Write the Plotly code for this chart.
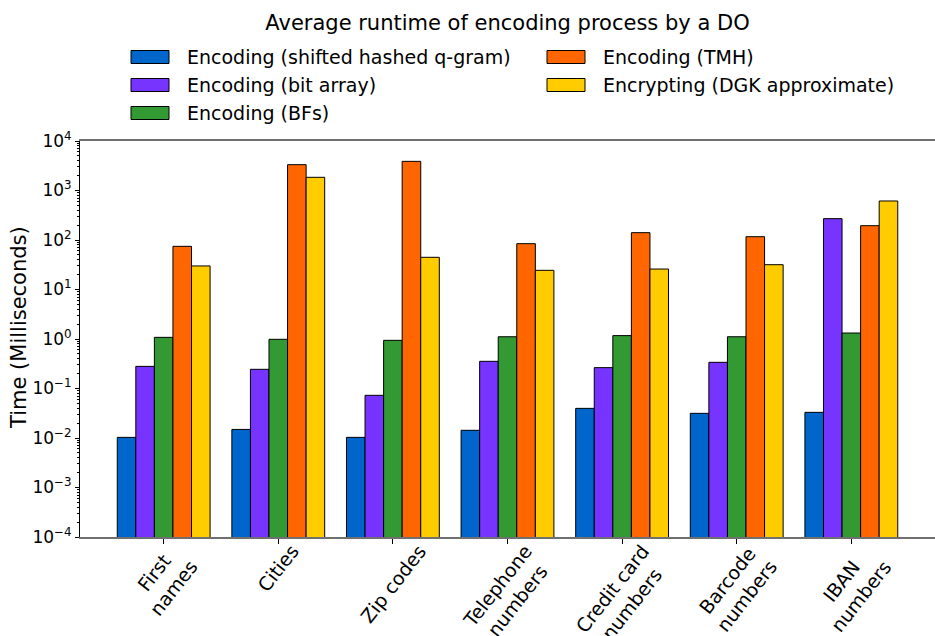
import plotly.graph_objects as go

# Data categories (x axis) and average runtimes in milliseconds
categories = ["First<br>names", "Cities", "Zip codes", "Telephone<br>numbers",
              "Credit card<br>numbers", "Barcode<br>numbers", "IBAN<br>numbers"]

shifted_qgram = [0.0103, 0.0149, 0.0103, 0.0143, 0.0397, 0.0315, 0.033]
bit_array = [0.28, 0.244, 0.0728, 0.354, 0.264, 0.338, 270]
bloom_filters = [1.08, 0.986, 0.94, 1.11, 1.17, 1.11, 1.32]
tmh = [74.5, 3325, 3880, 84.3, 140.6, 116.6, 194.5]
dgk_approx = [29.9, 1846, 44.7, 24.4, 25.9, 31.7, 614]

series_names = ["Encoding (shifted hashed q-gram)", "Encoding (bit array)",
                "Encoding (BFs)", "Encoding (TMH)", "Encrypting (DGK approximate)"]
series_values = [shifted_qgram, bit_array, bloom_filters, tmh, dgk_approx]
series_colors = ["#0066CC", "#7733FF", "#339933", "#FF6600", "#FFCC00"]

y_tick_exponents = [-4, -3, -2, -1, 0, 1, 2, 3, 4]
y_tick_labels = ["10<sup>\u22124</sup>", "10<sup>\u22123</sup>", "10<sup>\u22122</sup>",
                 "10<sup>\u22121</sup>", "10<sup>0</sup>", "10<sup>1</sup>",
                 "10<sup>2</sup>", "10<sup>3</sup>", "10<sup>4</sup>"]

FONT = "DejaVu Sans"
W, H = 935, 636
M_L, M_R, M_T, M_B = 80, 0, 141, 99
PW, PH = W - M_L - M_R, H - M_T - M_B


def px_to_paper(px, py):
    """Convert a page pixel position to plot-area paper coordinates."""
    return (px - M_L) / PW, (H - M_B - py) / PH


fig = go.Figure()
x_idx = list(range(len(categories)))
for name, vals, color in zip(series_names, series_values, series_colors):
    fig.add_trace(go.Bar(
        x=x_idx, y=vals, name=name, showlegend=False,
        marker=dict(color=color, line=dict(color="black", width=1)),
    ))

# Legend in two columns: three entries on the left, two on the right
shapes, annotations = [], []
legend_cols = [(131, 185), (547, 601)]
legend_rows = [57, 85, 113]
for i, (name, color) in enumerate(zip(series_names, series_colors)):
    col, row = (0, i) if i < 3 else (1, i - 3)
    sx, tx = legend_cols[col]
    cy = legend_rows[row]
    x0, y0 = px_to_paper(sx, cy + 6.5)
    x1, y1 = px_to_paper(sx + 38, cy - 6.5)
    shapes.append(dict(type="rect", xref="paper", yref="paper", x0=x0, y0=y0, x1=x1, y1=y1,
                       fillcolor=color, line=dict(color="black", width=1)))
    ax_, ay_ = px_to_paper(tx, cy)
    annotations.append(dict(text=name, xref="paper", yref="paper", x=ax_, y=ay_,
                            xanchor="left", yanchor="middle", showarrow=False,
                            font=dict(size=19, family=FONT, color="black")))

# Rotated category labels centred under each tick
for i, label in enumerate(categories):
    annotations.append(dict(text=label, xref="x", yref="paper", x=i, y=0, yshift=-1,
                            xanchor="center", yanchor="top", textangle=-52,
                            showarrow=False, align="center",
                            font=dict(size=19, family=FONT, color="black")))

# Y axis title
tx_, ty_ = px_to_paper(19, 328)
annotations.append(dict(text="Time (Milliseconds)", xref="paper", yref="paper",
                        x=tx_, y=ty_, xanchor="center", yanchor="middle",
                        textangle=-90, showarrow=False,
                        font=dict(size=21, family=FONT, color="black")))

fig.update_layout(
    width=W, height=H,
    margin=dict(l=M_L, r=M_R, t=M_T, b=M_B, autoexpand=False),
    paper_bgcolor="white", plot_bgcolor="white",
    barmode="group", bargap=0.19, bargroupgap=0,
    font=dict(family=FONT, color="black"),
    title=dict(text="Average runtime of encoding process by a DO",
               font=dict(size=21, family=FONT, color="black"),
               x=0.5, xref="paper", y=1 - 23 / H, yref="container",
               xanchor="center", yanchor="middle"),
    showlegend=False,
    shapes=shapes,
    annotations=annotations,
)

fig.update_xaxes(
    range=[-0.73, 6.73],
    tickmode="array", tickvals=x_idx, showticklabels=False,
    ticks="outside", ticklen=5, tickcolor="black",
    showline=True, linecolor="#707070", linewidth=1.5, mirror=True,
    showgrid=False, zeroline=False,
)

fig.update_yaxes(
    type="log", range=[-4, 4],
    tickmode="array", tickvals=[10 ** e for e in y_tick_exponents], ticktext=y_tick_labels,
    tickfont=dict(size=17, family=FONT),
    ticks="outside", ticklen=4, tickcolor="black",
    minor=dict(ticks="outside", ticklen=2, tickcolor="black", dtick="D1"),
    showline=True, linecolor="black", linewidth=1,
    showgrid=False, zeroline=False,
)

fig.write_html("out.html")
